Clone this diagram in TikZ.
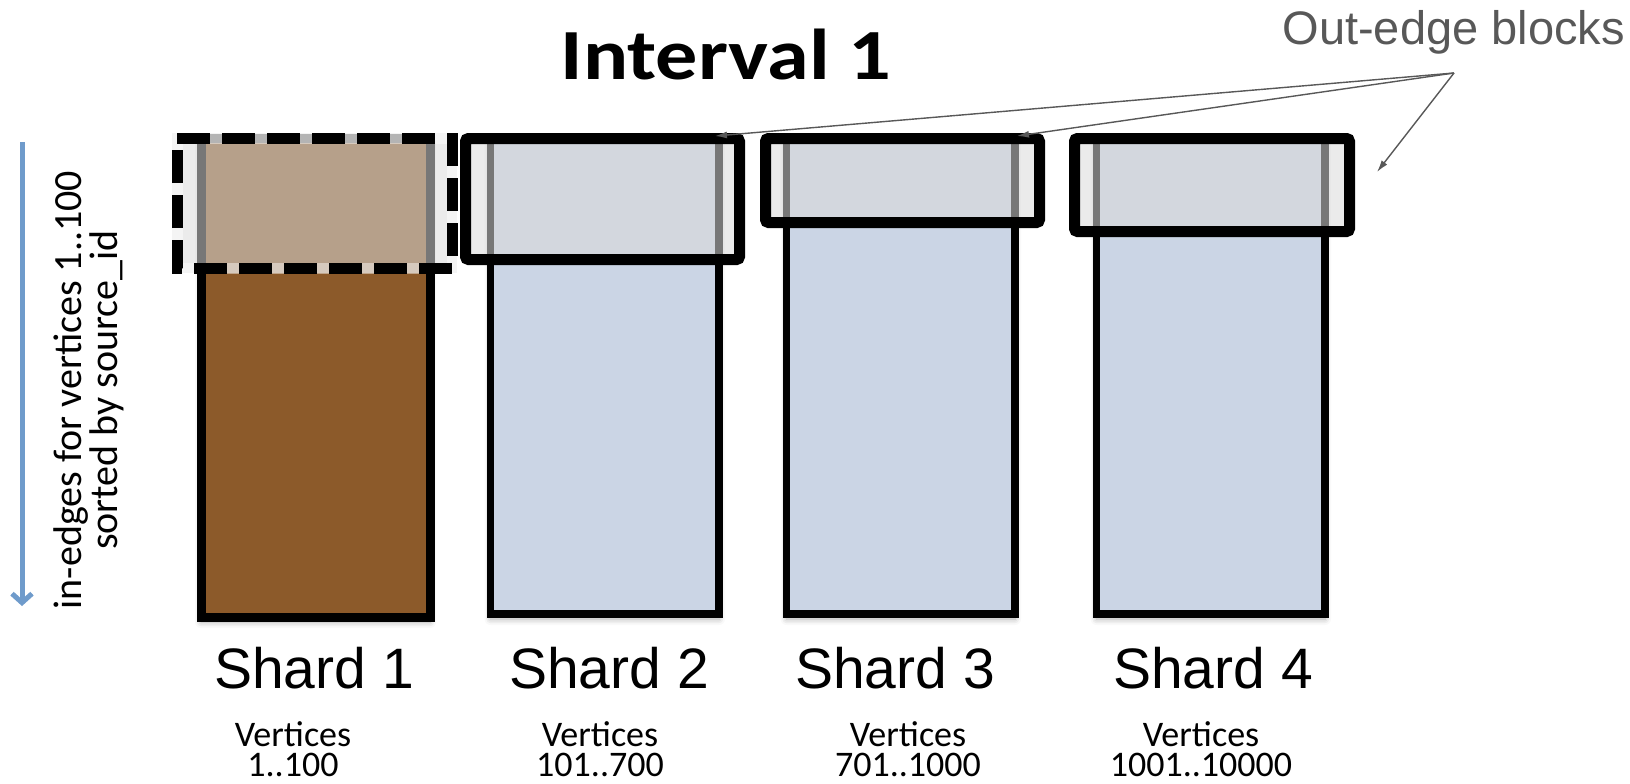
\documentclass[tikz,border=0pt]{standalone}
\usepackage{fontspec}
\setmainfont{Carlito}
\newfontfamily\arialfont{Liberation Sans}
\usetikzlibrary{arrows.meta,shadows.blur}

\definecolor{brownbody}{RGB}{140,90,42}
\definecolor{bluebody}{RGB}{203,213,229}
\definecolor{veil}{RGB}{218,218,218}
\definecolor{calloutgray}{RGB}{88,88,88}
\definecolor{axisblue}{RGB}{111,155,203}

\tikzset{
  softshadow/.style={blur shadow={shadow xshift=0pt, shadow yshift=-5pt,
    shadow blur radius=6pt, shadow opacity=35}},
  shardbody/.style={draw=black, line width=7.5pt, softshadow},
  outblock/.style={draw=black, line width=11pt, rounded corners=3pt,
    fill=veil, fill opacity=0.55},
  callout/.style={draw=calloutgray, line width=1.4pt, -{Latex[length=12pt,width=7pt]}},
  shardlabel/.style={font=\arialfont\fontsize{57}{60}\selectfont, anchor=base, inner sep=0pt},
  vertlabel/.style={font=\fontsize{36}{30}\selectfont, align=center, anchor=north, inner sep=0pt},
}

\begin{document}
\begin{tikzpicture}[x=1pt, y=-1pt]
\useasboundingbox (0,0) rectangle (1630,784);

% shard bodies (in-edges)
\draw[shardbody, fill=brownbody, line width=9pt] (201,138) rectangle (430,617);
\draw[shardbody, fill=bluebody] (490.5,140) rectangle (719,614);
\draw[shardbody, fill=bluebody] (786.5,140) rectangle (1015,614);
\draw[shardbody, fill=bluebody] (1096.5,140) rectangle (1325,614);

% out-edge block of shard 1 (dashed)
\fill[veil, fill opacity=0.55] (172,133) rectangle (457,273);
\draw[white, opacity=0.45, line width=11pt] (177,138) -- (452,138) -- (452,268) -- (177,268) -- cycle;
\draw[black, line width=11pt, dash pattern=on 33pt off 12pt]
  (177,138) -- (452,138) -- (452,268) -- (177,268) -- cycle;

% out-edge blocks of shards 2-4
\draw[outblock] (465.5,138.5) rectangle (739.5,259.5);
\draw[outblock] (765.5,138.5) rectangle (1039.5,222.5);
\draw[outblock] (1074.5,138.5) rectangle (1349.5,231.5);

% title
\node[font=\bfseries\fontsize{72}{80}\selectfont, anchor=base] (title) at (726,80)
  {\scalebox{1.17}[1]{Interval 1}};

% callout
\node[font=\arialfont\fontsize{47}{50}\selectfont, text=calloutgray, anchor=base east, inner sep=0pt]
  (outlabel) at (1625,45) {Out-edge blocks};
\coordinate (hub) at (1454,73);
\coordinate (tip2) at (715,136);
\coordinate (tip3) at (1017,136);
\coordinate (tip4) at (1377,172);
\draw[callout] (hub) -- (tip2);
\draw[callout] (hub) -- (tip3);
\draw[callout] (hub) -- (tip4);

% vertical axis
\coordinate (axtop) at (22,142);
\coordinate (axbot) at (22,606);
\draw[axisblue, line width=5pt, -{Straight Barb[length=9pt,width=20pt]}] (axtop) -- (axbot);
\node[rotate=90, align=center, inner sep=0pt, font=\fontsize{40}{33}\selectfont] (axislabel) at (89,390)
  {in-edges for vertices 1..100\\sorted by source\_id};

% shard names
\node[shardlabel] (s1) at (314,688) {Shard 1};
\node[shardlabel] (s2) at (609,688) {Shard 2};
\node[shardlabel] (s3) at (895,688) {Shard 3};
\node[shardlabel] (s4) at (1213,688) {Shard 4};

% vertex ranges
\node[vertlabel] (v1) at (293,721) {Vertices\\1..100};
\node[vertlabel] (v2) at (600,721) {Vertices\\101..700};
\node[vertlabel] (v3) at (908,721) {Vertices\\701..1000};
\node[vertlabel] (v4) at (1201,721) {Vertices\\1001..10000};
\end{tikzpicture}
\end{document}
